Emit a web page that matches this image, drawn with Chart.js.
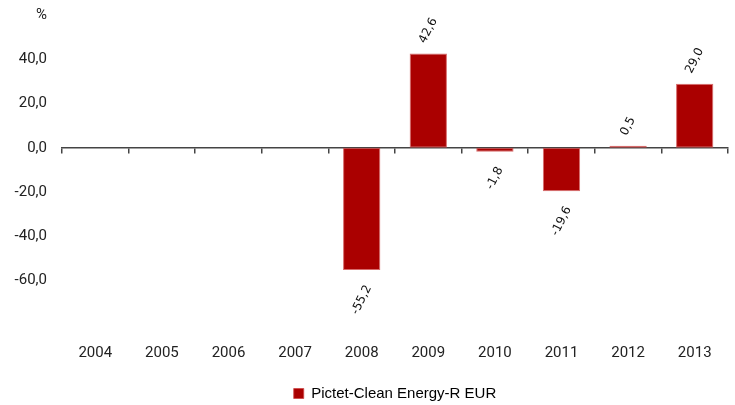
<!DOCTYPE html>
<html>
<head>
<meta charset="utf-8">
<script src="https://cdn.jsdelivr.net/npm/chart.js@4/dist/chart.umd.min.js"></script>
<style>
  html, body { margin: 0; padding: 0; background: #fff; }
  #wrap { width: 735px; height: 405px; }
</style>
</head>
<body>
<div id="wrap"><canvas id="returnsChart"></canvas></div>
<script>
const years = ['2004', '2005', '2006', '2007', '2008', '2009', '2010', '2011', '2012', '2013'];
const fundReturns = [null, null, null, null, -55.2, 42.6, -1.8, -19.6, 0.5, 29.0];
const seriesName = 'Pictet-Clean Energy-R EUR';
const yTicks = { min: -80, max: 60, step: 20 };

const axisFont = { family: "Roboto, 'Liberation Sans', sans-serif", size: 15 };
const barRed = '#aa0000';

const fmt = (v) => v.toFixed(1).replace('.', ',');

// rotated value labels above / below each bar
const valueLabels = {
    id: 'valueLabels',
    afterDatasetsDraw(chart) {
        const c = chart.ctx;
        const angle = 63 * Math.PI / 180;
        c.save();
        c.font = "12px 'DejaVu Sans', sans-serif";
        c.fillStyle = '#111';
        c.textAlign = 'center';
        c.textBaseline = 'middle';
        chart.getDatasetMeta(0).data.forEach((bar, i) => {
            const v = fundReturns[i];
            if (v === null) return;
            const txt = fmt(v);
            const w = c.measureText(txt).width;
            const half = (w * Math.sin(angle) + 9 * Math.cos(angle)) / 2;
            const y = v >= 0 ? bar.y - 9 - half : bar.y + 14 + half;
            c.save();
            c.translate(bar.x, y);
            c.rotate(-angle);
            c.fillText(txt, 0, 0);
            c.restore();
        });
        c.restore();
    }
};

new Chart(document.getElementById('returnsChart'), {
    type: 'bar',
    data: {
        labels: years,
        datasets: [{
            label: seriesName,
            data: fundReturns,
            backgroundColor: barRed,
            borderColor: 'rgba(205, 70, 70, 0.8)',
            borderWidth: 1,
            borderSkipped: false,
            minBarLength: 2,
            categoryPercentage: 1,
            barPercentage: 0.56
        }]
    },
    options: {
        responsive: true,
        maintainAspectRatio: false,
        animation: false,
        layout: { padding: { top: 15, right: 7, left: 0, bottom: -6 } },
        plugins: {
            legend: {
                position: 'bottom',
                fullSize: false,
                labels: {
                    boxWidth: 10,
                    boxHeight: 10,
                    padding: 4,
                    color: '#000',
                    font: { family: "'Liberation Sans', Arial, sans-serif", size: 15 }
                }
            },
            tooltip: { enabled: false }
        },
        scales: {
            x: {
                offset: true,
                grid: { display: false, drawTicks: false },
                border: { display: false },
                ticks: { color: '#222', font: axisFont, padding: 19 },
                afterFit(scale) { scale.height = 57; }
            },
            x2: {
                type: 'category',
                labels: years,
                position: { y: 0 },
                offset: true,
                grid: {
                    offset: true,
                    drawOnChartArea: false,
                    drawTicks: true,
                    tickLength: 5,
                    color: '#444',
                    lineWidth: 1.5
                },
                border: { display: true, color: '#444', width: 1.5 },
                ticks: { display: false }
            },
            y: {
                min: yTicks.min,
                max: yTicks.max,
                grid: { display: false, drawTicks: false },
                border: { display: false },
                ticks: {
                    stepSize: yTicks.step,
                    color: '#222',
                    font: axisFont,
                    padding: 15,
                    callback: (v) => v === yTicks.max ? '%' : (v === yTicks.min ? '' : fmt(v))
                },
                afterFit(scale) {
                    scale.width = 62;
                    scale.paddingTop = 0;
                    scale.paddingBottom = 0;
                }
            }
        }
    },
    plugins: [valueLabels]
});
</script>
</body>
</html>
